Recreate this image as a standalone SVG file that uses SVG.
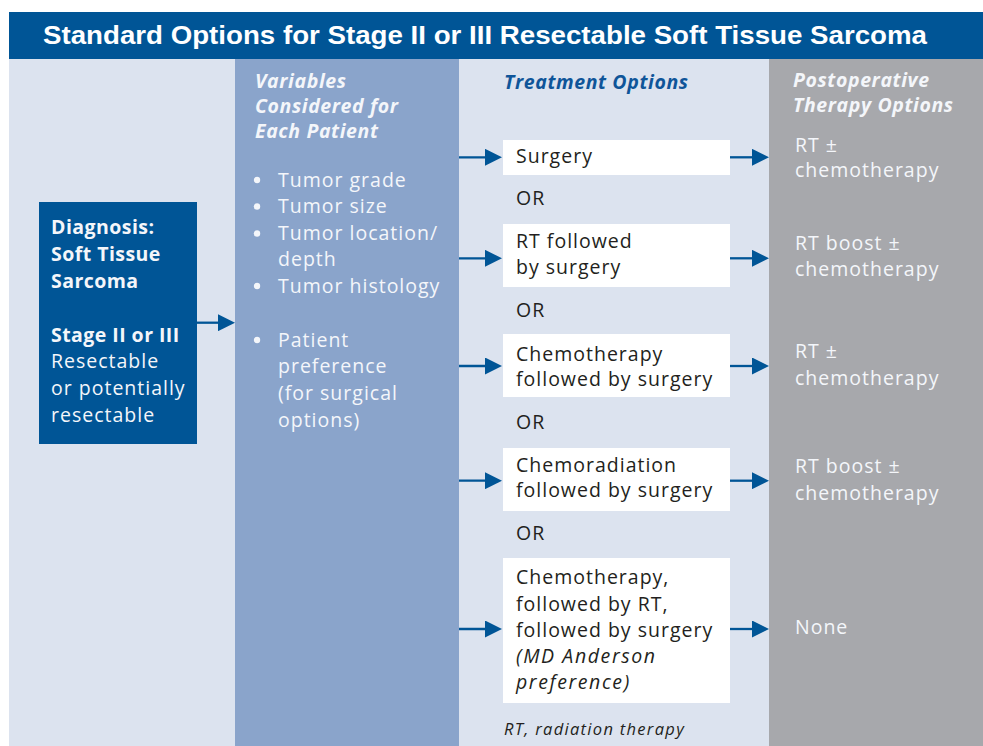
<svg xmlns="http://www.w3.org/2000/svg" width="983" height="746" viewBox="0 0 983 746">
  <style>
    text { font-family: "Open Sans", "Liberation Sans", sans-serif; }
    .title { font-family: "Liberation Sans", "Open Sans", sans-serif; font-weight: bold; font-size: 26px; fill: #ffffff; }
    .body { font-size: 19.5px; letter-spacing: 1px; }
    .dark { fill: #231f20; }
    .light { fill: #f4f6fa; }
    .bold { font-weight: bold; letter-spacing: 0.45px; }
    .ital { font-style: italic; letter-spacing: 1.6px; }
    .head { font-size: 19.5px; font-weight: bold; font-style: italic; letter-spacing: 0.6px; }
    .note { font-size: 16.5px; font-style: italic; fill: #231f20; letter-spacing: 1.3px; }
    .box { fill: #ffffff; }
    .arrow { stroke: #005596; stroke-width: 2.3; fill: none; marker-end: url(#tri); }
  </style>
  <defs>
    <marker id="tri" viewBox="0 0 17 17" refX="10" refY="8.5" markerWidth="17" markerHeight="17" markerUnits="userSpaceOnUse" orient="auto">
      <path d="M0,0 L17,8.5 L0,17 Z" fill="#005596"/>
    </marker>
  </defs>

  <!-- page background and column bands -->
  <rect x="0" y="0" width="983" height="746" fill="#ffffff"/>
  <rect x="9" y="59" width="974" height="687" fill="#dce3ef"/>
  <rect x="235" y="59" width="224" height="687" fill="#8aa4cb"/>
  <rect x="769" y="59" width="214" height="687" fill="#a7a8ac"/>

  <!-- title bar -->
  <g id="title">
    <rect x="9" y="12" width="974" height="47" fill="#005596"/>
    <text class="title" x="43" y="43.5" textLength="884" lengthAdjust="spacingAndGlyphs">Standard Options for Stage II or III Resectable Soft Tissue Sarcoma</text>
  </g>

  <!-- diagnosis -->
  <g id="diagnosis">
    <rect x="39" y="202" width="158" height="242" fill="#005596"/>
    <text class="body bold light" x="51" y="234">Diagnosis:</text>
    <text class="body bold light" x="51" y="261">Soft Tissue</text>
    <text class="body bold light" x="51" y="288">Sarcoma</text>
    <text class="body bold light" x="51" y="341.5">Stage II or III</text>
    <text class="body light" x="51" y="368">Resectable</text>
    <text class="body light" x="51" y="395">or potentially</text>
    <text class="body light" x="51" y="421.5">resectable</text>
  </g>

  <!-- patient variables -->
  <g id="variables">
    <text class="head light" x="255" y="88">Variables</text>
    <text class="head light" x="255" y="113">Considered for</text>
    <text class="head light" x="255" y="138">Each Patient</text>
    <g class="light">
      <circle cx="257" cy="180" r="3.2"/>
      <circle cx="257" cy="206.5" r="3.2"/>
      <circle cx="257" cy="233.5" r="3.2"/>
      <circle cx="257" cy="286" r="3.2"/>
      <circle cx="257" cy="340" r="3.2"/>
    </g>
    <text class="body light" x="278" y="186.7">Tumor grade</text>
    <text class="body light" x="278" y="213">Tumor size</text>
    <text class="body light" x="278" y="240">Tumor location/</text>
    <text class="body light" x="278" y="266">depth</text>
    <text class="body light" x="278" y="292.7">Tumor histology</text>
    <text class="body light" x="278" y="346.7">Patient</text>
    <text class="body light" x="278" y="373">preference</text>
    <text class="body light" x="278" y="400">(for surgical</text>
    <text class="body light" x="278" y="426.7">options)</text>
  </g>

  <!-- treatment options -->
  <text class="head" x="504" y="88.5" fill="#0f5599">Treatment Options</text>

  <g id="opt-surgery">
    <rect class="box" x="503" y="140" width="227" height="35"/>
    <text class="body dark" x="516" y="162.7">Surgery</text>
  </g>
  <text class="body dark" x="516" y="205">OR</text>

  <g id="opt-rt-surgery">
    <rect class="box" x="503" y="224" width="227" height="63"/>
    <text class="body dark" x="516" y="248.3">RT followed</text>
    <text class="body dark" x="516" y="274.3">by surgery</text>
  </g>
  <text class="body dark" x="516" y="317.3">OR</text>

  <g id="opt-chemo-surgery">
    <rect class="box" x="503" y="334" width="227" height="63"/>
    <text class="body dark" x="516" y="360.5">Chemotherapy</text>
    <text class="body dark" x="516" y="386">followed by surgery</text>
  </g>
  <text class="body dark" x="516" y="429.3">OR</text>

  <g id="opt-chemorad-surgery">
    <rect class="box" x="503" y="448" width="227" height="63"/>
    <text class="body dark" x="516" y="472">Chemoradiation</text>
    <text class="body dark" x="516" y="497.3">followed by surgery</text>
  </g>
  <text class="body dark" x="516" y="540">OR</text>

  <g id="opt-chemo-rt-surgery">
    <rect class="box" x="503" y="558" width="227" height="145"/>
    <text class="body dark" x="516" y="584.3">Chemotherapy,</text>
    <text class="body dark" x="516" y="610.5">followed by RT,</text>
    <text class="body dark" x="516" y="636.7">followed by surgery</text>
    <text class="body dark ital" x="516" y="663">(MD Anderson</text>
    <text class="body dark ital" x="516" y="689">preference)</text>
  </g>

  <text class="note" x="504" y="735">RT, radiation therapy</text>

  <!-- postoperative therapy -->
  <g id="postop">
    <text class="head light" x="793" y="87">Postoperative</text>
    <text class="head light" x="793" y="112">Therapy Options</text>
  </g>
  <g id="post-1">
    <text class="body light" x="795" y="151.7">RT ±</text>
    <text class="body light" x="795" y="177.3">chemotherapy</text>
  </g>
  <g id="post-2">
    <text class="body light" x="795" y="250">RT boost ±</text>
    <text class="body light" x="795" y="275.7">chemotherapy</text>
  </g>
  <g id="post-3">
    <text class="body light" x="795" y="358.3">RT ±</text>
    <text class="body light" x="795" y="385">chemotherapy</text>
  </g>
  <g id="post-4">
    <text class="body light" x="795" y="473.3">RT boost ±</text>
    <text class="body light" x="795" y="500">chemotherapy</text>
  </g>
  <g id="post-5">
    <text class="body light" x="795" y="634">None</text>
  </g>

  <!-- connectors -->
  <g id="connectors">
    <line class="arrow" x1="197" y1="322.7" x2="228" y2="322.7"/>
    <line class="arrow" x1="459" y1="157.3" x2="495" y2="157.3"/>
    <line class="arrow" x1="459" y1="258.3" x2="495" y2="258.3"/>
    <line class="arrow" x1="459" y1="366" x2="495" y2="366"/>
    <line class="arrow" x1="459" y1="480.7" x2="495" y2="480.7"/>
    <line class="arrow" x1="459" y1="629" x2="495" y2="629"/>
    <line class="arrow" x1="730" y1="157.3" x2="762" y2="157.3"/>
    <line class="arrow" x1="730" y1="258.3" x2="762" y2="258.3"/>
    <line class="arrow" x1="730" y1="366" x2="762" y2="366"/>
    <line class="arrow" x1="730" y1="480.7" x2="762" y2="480.7"/>
    <line class="arrow" x1="730" y1="629" x2="762" y2="629"/>
  </g>
</svg>
